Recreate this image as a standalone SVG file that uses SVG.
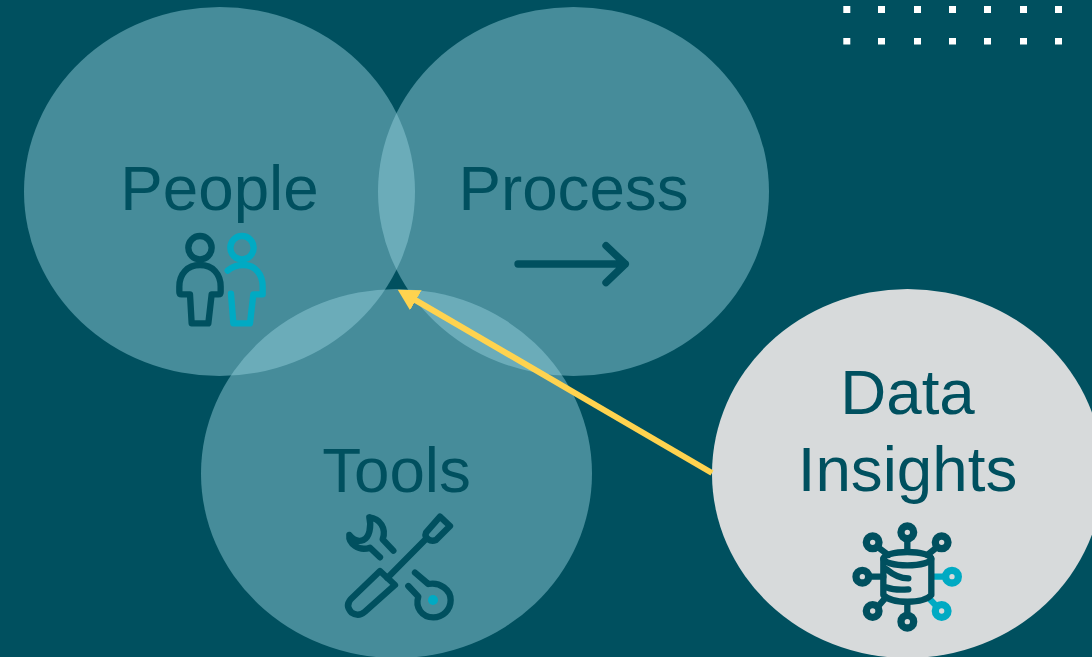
<svg xmlns="http://www.w3.org/2000/svg" width="1092" height="657" viewBox="0 0 1092 657">
<style>
.c{fill:#94D0DD;fill-opacity:.47}
.t{font-family:"Liberation Sans",Arial,sans-serif;font-size:63.7px;fill:#00505F;text-anchor:middle}
.d{fill:none;stroke:#00505F;stroke-width:19;stroke-linecap:round;stroke-linejoin:round}
.a{fill:none;stroke:#00AAC3;stroke-width:19;stroke-linecap:round;stroke-linejoin:round}
.dot{fill:#fff}
</style>
<defs>
<marker id="head" markerUnits="userSpaceOnUse" markerWidth="26" markerHeight="26" viewBox="0 0 26 26" refX="1" refY="13" orient="auto"><path d="M0,1.5 L21,13 L0,24.5 Z" fill="#FFD34F"/></marker>
</defs>
<rect width="1092" height="657" fill="#00505F"/>
<g id="dots">
<rect class="dot" x="843.3" y="6" width="7" height="7"/><rect class="dot" x="878" y="6" width="7" height="7"/><rect class="dot" x="914" y="6" width="7" height="7"/><rect class="dot" x="949" y="6" width="7" height="7"/><rect class="dot" x="984" y="6" width="7" height="7"/><rect class="dot" x="1020" y="6" width="7" height="7"/><rect class="dot" x="1055" y="6" width="7" height="7"/>
<rect class="dot" x="843.3" y="38" width="7" height="6.5"/><rect class="dot" x="878" y="38" width="7" height="6.5"/><rect class="dot" x="914" y="38" width="7" height="6.5"/><rect class="dot" x="949" y="38" width="7" height="6.5"/><rect class="dot" x="984" y="38" width="7" height="6.5"/><rect class="dot" x="1020" y="38" width="7" height="6.5"/><rect class="dot" x="1055" y="38" width="7" height="6.5"/>
</g>
<g id="people">
<ellipse class="c" cx="219.5" cy="191.5" rx="195.5" ry="184.5"/>
<text class="t" x="219.5" y="210">People</text>
<g transform="translate(150,220) scale(.3333)">
<circle class="a" cx="276" cy="83" r="35"/>
<path class="a" d="M233,152 C248,138 262,135 280,135 C315,135 338,162 338,200 V223 H310 L300,310 H250 L243,221"/>
<circle class="d" cx="150" cy="83" r="35"/>
<path class="d" d="M120,223 H95 Q88,223 88,216 V200 C88,162 112,135 150,135 C188,135 212,162 212,200 V216 Q212,223 205,223 H185 L175,310 H125 Z"/>
</g>
</g>
<g id="process">
<ellipse class="c" cx="573.5" cy="191.5" rx="195.5" ry="184.5"/>
<text class="t" x="573.5" y="210">Process</text>
<g transform="translate(500,230) scale(.3333)">
<path class="d" d="M54,102 H376 M318,47 L376,102 L318,158" style="stroke-width:22"/>
</g>
</g>
<g id="tools">
<ellipse class="c" cx="396.5" cy="473.5" rx="195.5" ry="184.5"/>
<text class="t" x="396.5" y="492">Tools</text>
<g transform="translate(330,500) scale(.3333)">
<path class="d" d="M150,213 L62,298 Q45,318 65,338 Q85,352 105,335 L195,255 Z"/>
<path class="d" d="M172,234 L290,115"/>
<path class="d" d="M288,98 L330,50 L360,78 L318,120 Q305,125 295,118 Q283,110 288,98 Z"/>
<path class="d" d="M118,52 C150,55 170,85 158,118 L190,152 M150,172 L120,143 C85,155 55,130 58,105 C72,122 88,125 100,120 C118,112 125,80 118,52"/>
<path class="d" d="M255,218 L295,252 C330,245 362,270 362,300 C362,330 338,352 310,352 C275,352 255,322 265,290 L235,258"/>
<circle cx="309" cy="300" r="15" fill="#00AAC3"/>
</g>
</g>
<g id="data-insights">
<ellipse cx="907.5" cy="473.5" rx="195.5" ry="184.5" fill="#D7DADB"/>
<text class="t" x="907.5" y="414">Data</text>
<text class="t" x="907.5" y="491">Insights</text>
<g transform="translate(840,510) scale(.3333)">
<path class="a" d="M280,200 H312 M270,268 L288,287"/>
<circle class="a" cx="336" cy="200" r="19" style="stroke-width:22"/>
<circle class="a" cx="305" cy="303" r="19" style="stroke-width:22"/>
<g style="stroke-width:22"><circle class="d" style="stroke-width:22" cx="202" cy="67" r="19"/><circle class="d" style="stroke-width:22" cx="98" cy="97" r="19"/><circle class="d" style="stroke-width:22" cx="305" cy="97" r="19"/><circle class="d" style="stroke-width:22" cx="67" cy="200" r="19"/><circle class="d" style="stroke-width:22" cx="98" cy="303" r="19"/><circle class="d" style="stroke-width:22" cx="202" cy="335" r="19"/></g>
<path class="d" d="M202,90 V125 M118,115 L145,135 M287,115 L262,135 M90,200 H130 M118,285 L135,265 M202,280 V312"/>
<ellipse class="d" cx="202" cy="146" rx="72" ry="20"/>
<path class="d" d="M130,146 V255 C155,282 250,282 274,255 V146 M140,178 C160,195 185,205 205,205 M140,232 C160,240 185,240 205,238"/>
</g>
</g>
<g id="connectors">
<line x1="712" y1="473" x2="415" y2="299.8" stroke="#FFD34F" stroke-width="6" marker-end="url(#head)"/>
</g>
</svg>
